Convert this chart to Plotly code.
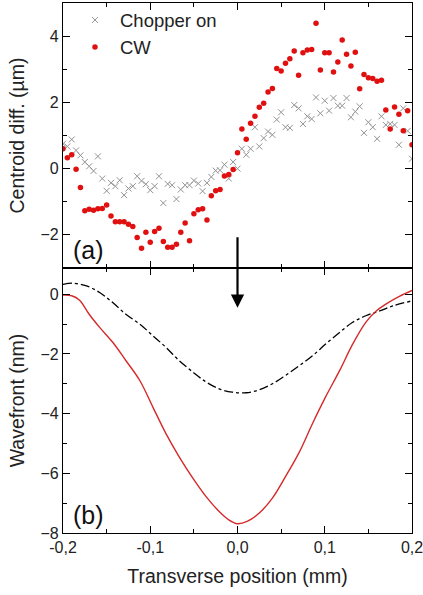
import plotly.graph_objects as go
from plotly.subplots import make_subplots

# ---- data ----
x_pos = [-0.200, -0.195, -0.190, -0.185, -0.180, -0.175, -0.170, -0.165, -0.160, -0.155,
         -0.150, -0.145, -0.140, -0.135, -0.130, -0.125, -0.120, -0.115, -0.110, -0.105,
         -0.100, -0.095, -0.090, -0.085, -0.080, -0.075, -0.070, -0.065, -0.060, -0.055,
         -0.050, -0.045, -0.040, -0.035, -0.030, -0.025, -0.020, -0.015, -0.010, -0.005,
         0.000, 0.005, 0.010, 0.015, 0.020, 0.025, 0.030, 0.035, 0.040, 0.045,
         0.050, 0.055, 0.060, 0.065, 0.070, 0.075, 0.080, 0.085, 0.090, 0.095,
         0.100, 0.105, 0.110, 0.115, 0.120, 0.125, 0.130, 0.135, 0.140, 0.145,
         0.150, 0.155, 0.160, 0.165, 0.170, 0.175, 0.180, 0.185, 0.190, 0.195, 0.200]

chopper_on = [0.75, 0.67, 0.88, 0.55, 0.40, 0.20, 0.07, -0.07, 0.37, -0.30,
              -0.67, -0.43, -0.53, -0.35, -0.80, -0.60, -0.53, -0.23, -0.37, -0.47,
              -0.65, -0.53, -0.23, -1.04, -0.46, -0.50, -0.92, -0.63, -0.50, -0.50,
              -0.36, -0.45, -0.68, -0.43, -0.25, -0.06, -0.05, 0.12, -0.30, 0.20,
              0.00, 0.60, 0.42, 0.60, 1.25, 0.67, 0.92, 1.12, 1.02, 1.48,
              1.70, 1.25, 1.23, 1.92, 1.82, 1.35, 1.58, 1.50, 2.15, 1.67,
              2.05, 1.75, 2.13, 1.90, 1.90, 2.13, 1.55, 1.72, 1.88, 1.08,
              1.40, 1.25, 0.90, 1.58, 1.32, 1.35, 1.32, 0.72, 1.82, 1.14, 0.30]

cw = [0.60, 0.33, 0.42, -0.02, -0.57, -1.27, -1.23, -1.26, -1.21, -1.20,
      -1.10, -1.43, -1.60, -1.60, -1.60, -1.68, -1.75, -2.08, -2.40, -1.92,
      -2.22, -1.90, -1.80, -2.20, -2.37, -2.37, -2.28, -1.92, -1.64, -2.18,
      -1.36, -1.24, -1.21, -1.55, -0.82, -0.67, -0.63, -0.22, -0.18, -0.03,
      0.48, 1.20, 0.89, 1.37, 1.58, 1.85, 1.97, 2.31, 2.42, 3.02,
      2.95, 3.18, 3.32, 3.55, 2.82, 3.50, 3.58, 3.60, 4.39, 2.98,
      3.50, 3.50, 2.92, 3.22, 3.88, 3.45, 3.10, 3.51, 2.41, 2.84,
      2.74, 2.72, 2.64, 2.67, 1.77, 1.20, 1.86, 1.64, 1.14, 1.75, 0.72]

wf_cw_x = [-0.200, -0.190, -0.181, -0.170, -0.158, -0.143, -0.128, -0.112, -0.097, -0.082,
           -0.067, -0.051, -0.036, -0.021, -0.010, 0.000, 0.011, 0.025, 0.040, 0.055,
           0.071, 0.086, 0.101, 0.117, 0.132, 0.147, 0.159, 0.170, 0.186, 0.200]
wf_cw_y = [-0.03, -0.05, -0.20, -0.67, -1.11, -1.61, -2.22, -2.89, -3.78, -4.67,
           -5.44, -6.17, -6.78, -7.28, -7.56, -7.69, -7.61, -7.33, -6.83, -6.11,
           -5.28, -4.33, -3.44, -2.56, -1.67, -0.94, -0.56, -0.33, -0.06, 0.13]

wf_ch_x = [-0.200, -0.189, -0.173, -0.158, -0.143, -0.128, -0.112, -0.097, -0.082, -0.067,
           -0.051, -0.036, -0.021, -0.006, 0.010, 0.025, 0.040, 0.055, 0.071, 0.086,
           0.101, 0.117, 0.132, 0.147, 0.163, 0.178, 0.200]
wf_ch_y = [0.33, 0.37, 0.28, 0.06, -0.28, -0.67, -1.00, -1.39, -1.78, -2.22,
           -2.61, -2.94, -3.17, -3.28, -3.30, -3.20, -3.00, -2.72, -2.39, -2.06,
           -1.67, -1.28, -0.94, -0.72, -0.56, -0.39, -0.22]

x_tickvals = [-0.2, -0.1, 0.0, 0.1, 0.2]
x_ticktext = ["-0,2", "-0,1", "0,0", "0,1", "0,2"]
ya_tickvals = [-2, 0, 2, 4]
yb_tickvals = [-8, -6, -4, -2, 0]

FONT = "Arial, Liberation Sans, sans-serif"
TXT = "#222222"

fig = make_subplots(rows=2, cols=1, shared_xaxes=False, vertical_spacing=0)

fig.add_trace(go.Scatter(x=x_pos, y=chopper_on, mode="markers", name="Chopper on",
                         marker=dict(symbol="x-thin-open", size=6,
                                     line=dict(color="#929292", width=1),
                                     color="#929292")), row=1, col=1)
fig.add_trace(go.Scatter(x=x_pos, y=cw, mode="markers", name="CW",
                         marker=dict(symbol="circle", size=5.5, color="#e01010")), row=1, col=1)
fig.add_trace(go.Scatter(x=wf_ch_x, y=wf_ch_y, mode="lines", showlegend=False,
                         line=dict(color="black", width=1.3, dash="dashdot", shape="spline")),
              row=2, col=1)
fig.add_trace(go.Scatter(x=wf_cw_x, y=wf_cw_y, mode="lines", showlegend=False,
                         line=dict(color="#d42a2a", width=1.4, shape="spline")),
              row=2, col=1)

axis_common = dict(showline=True, linecolor="black", linewidth=1.3, mirror="allticks",
                   ticks="inside", ticklen=7, tickwidth=1.3, tickcolor="black",
                   showgrid=False, zeroline=False, ticklabeloverflow="allow",
                   tickfont=dict(family=FONT, size=16, color=TXT))

fig.update_xaxes(**axis_common, range=[-0.2, 0.2], tickvals=x_tickvals,
                 minor=dict(ticks="inside", dtick=0.05, tick0=0, ticklen=4,
                            tickwidth=1.2, tickcolor="black"))
fig.update_xaxes(showticklabels=False, row=1, col=1)
fig.update_xaxes(ticktext=x_ticktext, row=2, col=1,
                 title=dict(text="Transverse position (mm)",
                            font=dict(family=FONT, size=19.5, color=TXT), standoff=14))

fig.update_yaxes(**axis_common)
fig.update_yaxes(range=[-3, 5], tickvals=ya_tickvals, row=1, col=1,
                 minor=dict(ticks="inside", dtick=1, tick0=0, ticklen=4,
                            tickwidth=1.2, tickcolor="black"),
                 title=dict(text="Centroid diff. (µm)",
                            font=dict(family=FONT, size=19.5, color=TXT), standoff=10))
fig.update_yaxes(range=[-8, 0.88], tickvals=yb_tickvals, row=2, col=1,
                 minor=dict(ticks="inside", dtick=1, tick0=0, ticklen=4,
                            tickwidth=1.2, tickcolor="black"),
                 title=dict(text="Wavefront (nm)",
                            font=dict(family=FONT, size=19.5, color=TXT), standoff=10))

fig.update_layout(
    width=423, height=595,
    margin=dict(l=63, r=11, t=1, b=62),
    paper_bgcolor="white", plot_bgcolor="white",
    showlegend=True,
    legend=dict(x=0.02, y=1.003, xanchor="left", yanchor="top",
                bgcolor="rgba(0,0,0,0)", borderwidth=0, itemwidth=40,
                font=dict(family=FONT, size=18.5, color=TXT), tracegroupgap=0),
    annotations=[
        dict(text="(a)", x=0.022, y=-2.45, xref="x domain", yref="y", xanchor="left",
             yanchor="middle", showarrow=False, font=dict(family=FONT, size=25, color="#111")),
        dict(text="(b)", x=0.022, y=-7.4, xref="x2 domain", yref="y2", xanchor="left",
             yanchor="middle", showarrow=False, font=dict(family=FONT, size=25, color="#111")),
        dict(x=0.0, y=-0.45, xref="x2", yref="y2", ax=0, ay=-72, axref="pixel", ayref="pixel",
             text="", showarrow=True, arrowhead=2, arrowsize=1.2, arrowwidth=2.2,
             arrowcolor="black"),
    ],
)

fig.write_html("out.html", config={"displayModeBar": False},
               post_script="document.body.style.margin='0px';")
